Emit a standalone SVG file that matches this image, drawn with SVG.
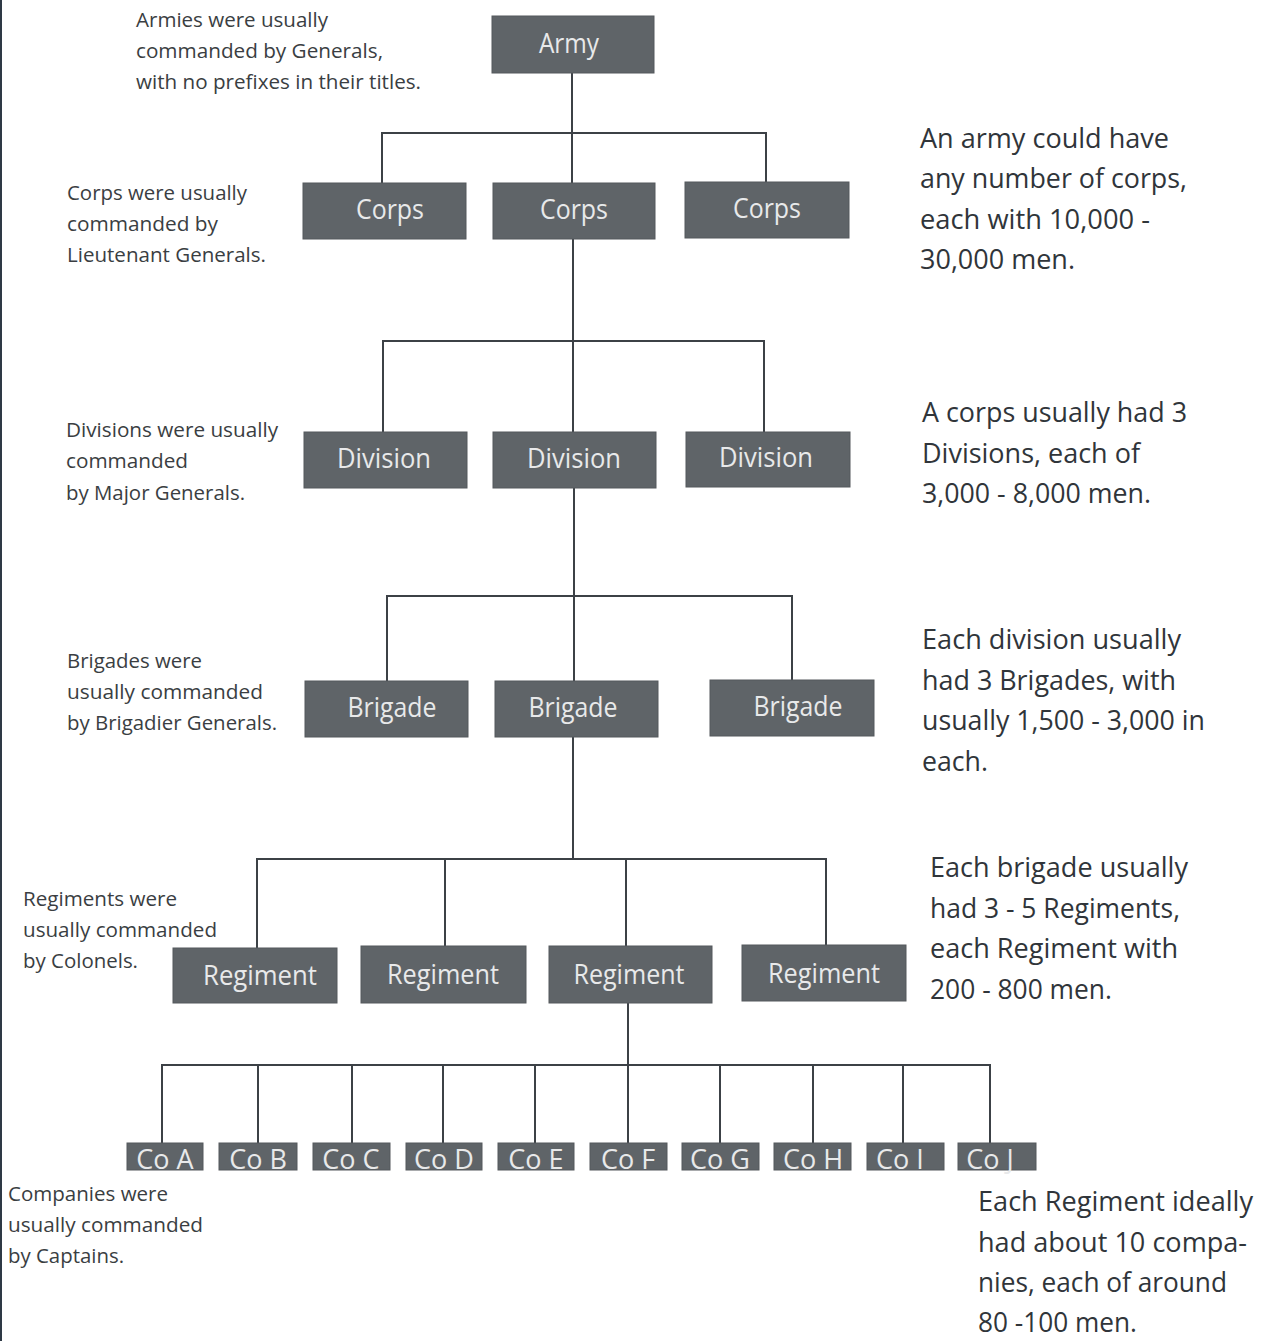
<svg xmlns="http://www.w3.org/2000/svg" width="1261" height="1341" viewBox="0 0 1261 1341">
<style>
.bg{fill:#ffffff}
.box{fill:#5f6468;stroke:#55595d;stroke-width:1}
.bl{font-family:"Open Sans","Noto Sans",sans-serif;font-size:27px;fill:#e8e9ea;text-anchor:middle}
.co{font-family:"Open Sans","Noto Sans",sans-serif;font-size:27px;fill:#e8e9ea;text-anchor:middle}
.lt{font-family:"Open Sans","Noto Sans",sans-serif;font-size:20px;fill:#3a3e42}
.rt{font-family:"Open Sans","Noto Sans",sans-serif;font-size:27px;fill:#30353a}
.ln{stroke:#3c4146;stroke-width:2;fill:none}
</style>
<rect class="bg" x="0" y="0" width="1261" height="1341"/>
<line x1="1" y1="0" x2="1" y2="1341" stroke="#2e3945" stroke-width="2"/>

<g id="connectors">
<path class="ln" d="M572 73V183 M382 183V133H766V183"/>
<path class="ln" d="M573 239V432 M383 432V341H764V432"/>
<path class="ln" d="M574 488V681 M387 681V596H792V681"/>
<path class="ln" d="M573 737V859 M257 948V859H826V946 M445 859V946 M626 859V946"/>
<path class="ln" d="M628 1003V1143 M162 1143V1065H990V1143 M258 1065V1143 M352 1065V1143 M443 1065V1143 M535 1065V1143 M720 1065V1143 M813 1065V1143 M903 1065V1143"/>
</g>

<g id="army"><rect class="box" x="492" y="16" width="162" height="57"/><text class="bl" x="569" y="53" textLength="60" lengthAdjust="spacingAndGlyphs">Army</text></g>

<g id="corps1"><rect class="box" x="303" y="183" width="163" height="56"/><text class="bl" x="390" y="219" textLength="68" lengthAdjust="spacingAndGlyphs">Corps</text></g>
<g id="corps2"><rect class="box" x="493" y="183" width="162" height="56"/><text class="bl" x="574" y="219" textLength="68" lengthAdjust="spacingAndGlyphs">Corps</text></g>
<g id="corps3"><rect class="box" x="685" y="182" width="164" height="56"/><text class="bl" x="767" y="218" textLength="68" lengthAdjust="spacingAndGlyphs">Corps</text></g>

<g id="division1"><rect class="box" x="304" y="432" width="163" height="56"/><text class="bl" x="384" y="468" textLength="94" lengthAdjust="spacingAndGlyphs">Division</text></g>
<g id="division2"><rect class="box" x="493" y="432" width="163" height="56"/><text class="bl" x="574" y="468" textLength="94" lengthAdjust="spacingAndGlyphs">Division</text></g>
<g id="division3"><rect class="box" x="686" y="432" width="164" height="55"/><text class="bl" x="766" y="467" textLength="94" lengthAdjust="spacingAndGlyphs">Division</text></g>

<g id="brigade1"><rect class="box" x="305" y="681" width="163" height="56"/><text class="bl" x="392" y="717" textLength="89" lengthAdjust="spacingAndGlyphs">Brigade</text></g>
<g id="brigade2"><rect class="box" x="495" y="681" width="163" height="56"/><text class="bl" x="573" y="717" textLength="89" lengthAdjust="spacingAndGlyphs">Brigade</text></g>
<g id="brigade3"><rect class="box" x="710" y="680" width="164" height="56"/><text class="bl" x="798" y="716" textLength="89" lengthAdjust="spacingAndGlyphs">Brigade</text></g>

<g id="regiment1"><rect class="box" x="173" y="948" width="164" height="55"/><text class="bl" x="260" y="985" textLength="114" lengthAdjust="spacingAndGlyphs">Regiment</text></g>
<g id="regiment2"><rect class="box" x="361" y="946" width="165" height="57"/><text class="bl" x="443" y="984" textLength="112" lengthAdjust="spacingAndGlyphs">Regiment</text></g>
<g id="regiment3"><rect class="box" x="549" y="946" width="163" height="57"/><text class="bl" x="629" y="984" textLength="111" lengthAdjust="spacingAndGlyphs">Regiment</text></g>
<g id="regiment4"><rect class="box" x="742" y="945" width="164" height="56"/><text class="bl" x="824" y="983" textLength="112" lengthAdjust="spacingAndGlyphs">Regiment</text></g>

<g id="coA"><rect class="box" x="127" y="1143" width="76" height="27"/><text class="co" x="165" y="1169">Co A</text></g>
<g id="coB"><rect class="box" x="219" y="1143" width="78" height="27"/><text class="co" x="258" y="1169">Co B</text></g>
<g id="coC"><rect class="box" x="313" y="1143" width="77" height="27"/><text class="co" x="351" y="1169">Co C</text></g>
<g id="coD"><rect class="box" x="406" y="1143" width="76" height="27"/><text class="co" x="444" y="1169">Co D</text></g>
<g id="coE"><rect class="box" x="498" y="1143" width="76" height="27"/><text class="co" x="536" y="1169">Co E</text></g>
<g id="coF"><rect class="box" x="590" y="1143" width="77" height="27"/><text class="co" x="628" y="1169">Co F</text></g>
<g id="coG"><rect class="box" x="682" y="1143" width="77" height="27"/><text class="co" x="720" y="1169">Co G</text></g>
<g id="coH"><rect class="box" x="774" y="1143" width="77" height="27"/><text class="co" x="813" y="1169">Co H</text></g>
<g id="coI"><rect class="box" x="867" y="1143" width="77" height="27"/><text class="co" x="900" y="1169">Co I</text></g>
<g id="coJ"><rect class="box" x="958" y="1143" width="78" height="27"/><text class="co" x="990" y="1169">Co J</text></g>

<g id="left-notes">
<text class="lt" x="136" y="27" textLength="192" lengthAdjust="spacingAndGlyphs">Armies were usually</text>
<text class="lt" x="136" y="58" textLength="247" lengthAdjust="spacingAndGlyphs">commanded by Generals,</text>
<text class="lt" x="136" y="89" textLength="285" lengthAdjust="spacingAndGlyphs">with no prefixes in their titles.</text>
<text class="lt" x="67" y="200" textLength="180" lengthAdjust="spacingAndGlyphs">Corps were usually</text>
<text class="lt" x="67" y="231" textLength="151" lengthAdjust="spacingAndGlyphs">commanded by</text>
<text class="lt" x="67" y="262" textLength="199" lengthAdjust="spacingAndGlyphs">Lieutenant Generals.</text>
<text class="lt" x="66" y="437" textLength="212" lengthAdjust="spacingAndGlyphs">Divisions were usually</text>
<text class="lt" x="66" y="468" textLength="122" lengthAdjust="spacingAndGlyphs">commanded</text>
<text class="lt" x="66" y="500" textLength="179" lengthAdjust="spacingAndGlyphs">by Major Generals.</text>
<text class="lt" x="67" y="668" textLength="135" lengthAdjust="spacingAndGlyphs">Brigades were</text>
<text class="lt" x="67" y="699" textLength="196" lengthAdjust="spacingAndGlyphs">usually commanded</text>
<text class="lt" x="67" y="730" textLength="210" lengthAdjust="spacingAndGlyphs">by Brigadier Generals.</text>
<text class="lt" x="23" y="906" textLength="154" lengthAdjust="spacingAndGlyphs">Regiments were</text>
<text class="lt" x="23" y="937" textLength="194" lengthAdjust="spacingAndGlyphs">usually commanded</text>
<text class="lt" x="23" y="968" textLength="115" lengthAdjust="spacingAndGlyphs">by Colonels.</text>
<text class="lt" x="8" y="1201" textLength="160" lengthAdjust="spacingAndGlyphs">Companies were</text>
<text class="lt" x="8" y="1232" textLength="195" lengthAdjust="spacingAndGlyphs">usually commanded</text>
<text class="lt" x="8" y="1263" textLength="116" lengthAdjust="spacingAndGlyphs">by Captains.</text>
</g>

<g id="right-notes">
<text class="rt" x="920" y="148" textLength="249" lengthAdjust="spacingAndGlyphs">An army could have</text>
<text class="rt" x="920" y="188" textLength="267" lengthAdjust="spacingAndGlyphs">any number of corps,</text>
<text class="rt" x="920" y="229" textLength="230" lengthAdjust="spacingAndGlyphs">each with 10,000 -</text>
<text class="rt" x="920" y="269" textLength="155" lengthAdjust="spacingAndGlyphs">30,000 men.</text>
<text class="rt" x="922" y="422" textLength="265" lengthAdjust="spacingAndGlyphs">A corps usually had 3</text>
<text class="rt" x="922" y="463" textLength="218" lengthAdjust="spacingAndGlyphs">Divisions, each of</text>
<text class="rt" x="922" y="503" textLength="229" lengthAdjust="spacingAndGlyphs">3,000 - 8,000 men.</text>
<text class="rt" x="922" y="649" textLength="259" lengthAdjust="spacingAndGlyphs">Each division usually</text>
<text class="rt" x="922" y="690" textLength="254" lengthAdjust="spacingAndGlyphs">had 3 Brigades, with</text>
<text class="rt" x="922" y="730" textLength="283" lengthAdjust="spacingAndGlyphs">usually 1,500 - 3,000 in</text>
<text class="rt" x="922" y="771" textLength="66" lengthAdjust="spacingAndGlyphs">each.</text>
<text class="rt" x="930" y="877" textLength="258" lengthAdjust="spacingAndGlyphs">Each brigade usually</text>
<text class="rt" x="930" y="918" textLength="250" lengthAdjust="spacingAndGlyphs">had 3 - 5 Regiments,</text>
<text class="rt" x="930" y="958" textLength="248" lengthAdjust="spacingAndGlyphs">each Regiment with</text>
<text class="rt" x="930" y="999" textLength="182" lengthAdjust="spacingAndGlyphs">200 - 800 men.</text>
<text class="rt" x="978" y="1211" textLength="275" lengthAdjust="spacingAndGlyphs">Each Regiment ideally</text>
<text class="rt" x="978" y="1252" textLength="269" lengthAdjust="spacingAndGlyphs">had about 10 compa-</text>
<text class="rt" x="978" y="1292" textLength="249" lengthAdjust="spacingAndGlyphs">nies, each of around</text>
<text class="rt" x="978" y="1332" textLength="159" lengthAdjust="spacingAndGlyphs">80 -100 men.</text>
</g>
</svg>
